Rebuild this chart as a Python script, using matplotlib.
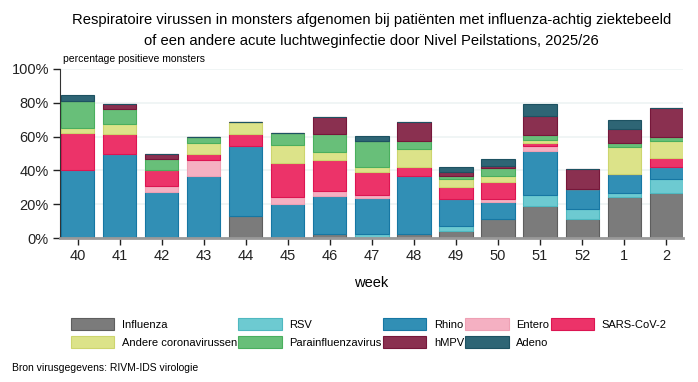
import numpy as np
import matplotlib
matplotlib.use('Agg')
import matplotlib.pyplot as plt
from matplotlib.patches import Patch
from matplotlib.ticker import FuncFormatter

plt.rcParams['font.family'] = ['Liberation Sans', 'DejaVu Sans']

weeks = ['40', '41', '42', '43', '44', '45', '46', '47', '48', '49', '50', '51', '52', '1', '2']

influenza = [0, 0, 0, 0, 13.3, 0, 2.2, 0, 2.2, 4.4, 11.1, 19.0, 11.5, 24.0, 26.9]
rsv       = [0, 0, 0, 0, 0, 0, 0, 2.2, 0, 2.5, 0, 6.5, 5.9, 2.7, 8.1]
rhino     = [40.0, 49.5, 27.5, 36.4, 41.4, 20.2, 22.9, 21.2, 34.4, 15.9, 10.1, 25.8, 11.7, 10.9, 7.2]
entero    = [0, 0, 3.4, 9.9, 0, 3.8, 3.0, 2.3, 0, 0, 1.6, 3.2, 0, 0, 0]
sars      = [22.2, 11.9, 9.3, 3.2, 7.1, 20.4, 17.8, 13.3, 5.2, 7.1, 10.1, 1.5, 0, 0, 4.9]
corona    = [3.1, 6.1, 0, 6.7, 7.1, 10.6, 5.0, 2.8, 10.7, 4.8, 3.5, 2.0, 0, 16.3, 10.5]
para      = [15.7, 8.7, 6.3, 3.8, 0, 7.0, 10.5, 15.8, 5.1, 1.9, 4.8, 2.8, 0, 2.5, 2.0]
hmpv      = [0, 3.0, 3.4, 0, 0, 0, 10.1, 0, 10.9, 2.6, 1.6, 11.5, 11.9, 8.0, 17.6]
adeno     = [3.6, 0, 0, 0, 0, 0, 0, 2.8, 0, 2.6, 3.7, 6.7, 0, 5.7, 0]

series = [
    ('Influenza', influenza, '#7b7b7b', '#5e5e5e'),
    ('RSV', rsv, '#6dcad1', '#4fb8c0'),
    ('Rhino', rhino, '#318fb5', '#1677a3'),
    ('Entero', entero, '#f5b0c2', '#eea0b4'),
    ('SARS-CoV-2', sars, '#ec3369', '#dc1552'),
    ('Andere coronavirussen', corona, '#dce389', '#cdd56e'),
    ('Parainfluenzavirus', para, '#68bf79', '#4aaf5e'),
    ('hMPV', hmpv, '#8a3050', '#76173a'),
    ('Adeno', adeno, '#2e6575', '#1d5262'),
]

fig = plt.figure(figsize=(6.98, 3.82), dpi=100)
ax = fig.add_axes([60 / 698, 1 - 238 / 382, 623 / 698, 169 / 382])

x = np.arange(len(weeks))
bottom = np.zeros(len(weeks))
for name, vals, col, edge in series:
    vals = np.array(vals, dtype=float)
    ax.bar(x, vals, width=0.79, bottom=bottom, color=col, edgecolor=edge, linewidth=0.8, zorder=2)
    bottom += vals

ax.set_xlim(-0.42, 14.40)
ax.set_ylim(0, 100)
ax.set_yticks([0, 20, 40, 60, 80, 100])
ax.yaxis.set_major_formatter(FuncFormatter(lambda v, p: '%d%%' % v))
ax.set_xticks(x)
ax.set_xticklabels(weeks)
ax.tick_params(axis='both', labelsize=10.5, colors='#222222', length=5, width=1)
ax.tick_params(axis='x', pad=3)
ax.tick_params(axis='y', pad=3)
ax.grid(axis='y', color='#eef4f4', linewidth=1.2, zorder=0)
for s in ['top', 'right']:
    ax.spines[s].set_visible(False)
ax.spines['left'].set_color('#333333')
ax.spines['bottom'].set_color('#999999')
ax.spines['bottom'].set_linewidth(2)
ax.set_xlabel('week', fontsize=10.5, labelpad=9)

fig.text(371.5 / 698, 1 - 30.5 / 382,
         'Respiratoire virussen in monsters afgenomen bij patiënten met influenza-achtig ziektebeeld\n'
         'of een andere acute luchtweginfectie door Nivel Peilstations, 2025/26',
         ha='center', va='center', fontsize=10.65, linespacing=1.7)
fig.text(63 / 698, 1 - 59 / 382, 'percentage positieve monsters', fontsize=7.5, va='center')
fig.text(12 / 698, 1 - 368 / 382, 'Bron virusgegevens: RIVM-IDS virologie', fontsize=7.5, va='center')

# matplotlib fills legend columns first, so reorder to get the row layout
order = [0, 5, 1, 6, 2, 7, 3, 8, 4]
handles = [Patch(facecolor=series[i][2], edgecolor=series[i][3], linewidth=0.8) for i in order]
labels = [series[i][0] for i in order]
fig.legend(handles, labels, ncol=5, loc='upper left', bbox_to_anchor=(71 / 698, 1 - 318 / 382),
           frameon=False, fontsize=8, handlelength=3.9, handleheight=1.3, handletextpad=0.7,
           columnspacing=0.1, borderpad=0, borderaxespad=0, labelspacing=0.55)

fig.savefig('out.png', dpi=100)
